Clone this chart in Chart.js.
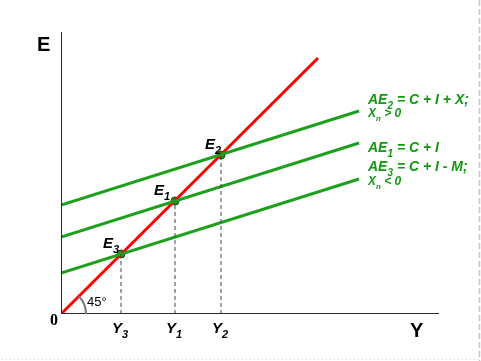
<!DOCTYPE html>
<html>
<head>
<meta charset="utf-8">
<script src="https://cdn.jsdelivr.net/npm/chart.js@4"></script>
<style>
  html, body { margin: 0; padding: 0; background: #fff; }
  #wrap { width: 481px; height: 361px; position: relative; }
</style>
</head>
<body>
<div id="wrap"><canvas id="chart" width="481" height="361"></canvas></div>
<script>
// values (units: output Y and spending E)
var lineX = [0, 298];
var ae2 = [109, 203];
var ae1 = [77, 171];
var ae3 = [41, 135];
var diagX = [0, 257];
var diagY = [0, 256];
var eqNames = ["E3", "E1", "E2"];
var eqY = [60, 114, 160];
var eqE = [60, 113, 159];
var eqLabelShift = [-10, -13, -8];
var xAxisEnd = 378;
var yAxisEnd = 282;

var green = "#1ea01e";
var textGreen = "#119911";

function pts(xs, ys) {
  return xs.map(function (x, i) { return { x: x, y: ys[i] }; });
}

function lineSet(data, color, width, dash) {
  return {
    type: "line",
    data: data,
    borderColor: color,
    borderWidth: width,
    borderDash: dash || [],
    pointRadius: 0,
    fill: false,
    tension: 0,
  };
}

var datasets = [];
// axes
datasets.push(lineSet([{ x: 0, y: 0 }, { x: xAxisEnd, y: 0 }], "#2a2a2a", 2));
datasets.push(lineSet([{ x: 0, y: 0 }, { x: 0, y: yAxisEnd }], "#2a2a2a", 2));
// drop lines
eqY.forEach(function (x, i) {
  datasets.push(lineSet([{ x: x, y: 0 }, { x: x, y: eqE[i] }], "#444", 1, [4, 3]));
});
// AE lines
datasets.push(lineSet(pts(lineX, ae2), green, 3));
datasets.push(lineSet(pts(lineX, ae1), green, 3));
datasets.push(lineSet(pts(lineX, ae3), green, 3));
// 45 degree line
datasets.push(lineSet(pts(diagX, diagY), "#ff0000", 3));
// equilibrium points
datasets.push({
  type: "scatter",
  data: pts(eqY, eqE),
  backgroundColor: "#1a9a1a",
  borderColor: "#114411",
  borderWidth: 1,
  pointRadius: 4,
});

function subText(ctx, x, y, main, sub, size, align) {
  ctx.font = "bold italic " + size + "px Arial, 'Liberation Sans', sans-serif";
  var w1 = ctx.measureText(main).width;
  var subSize = Math.round(size * 0.7);
  ctx.font = "bold italic " + subSize + "px Arial, 'Liberation Sans', sans-serif";
  var w2 = ctx.measureText(sub).width;
  var start = x;
  if (align === "center") start = x - (w1 + w2) / 2;
  ctx.textAlign = "left";
  ctx.textBaseline = "alphabetic";
  ctx.font = "bold italic " + size + "px Arial, 'Liberation Sans', sans-serif";
  ctx.fillText(main, start, y);
  ctx.font = "bold italic " + subSize + "px Arial, 'Liberation Sans', sans-serif";
  ctx.fillText(sub, start + w1, y + size * 0.33);
  return start + w1 + w2;
}

var labelsPlugin = {
  id: "labels",
  afterDatasetsDraw: function (chart) {
    var ctx = chart.ctx;
    var xs = chart.scales.x, ys = chart.scales.y;
    var ox = xs.getPixelForValue(0), oy = ys.getPixelForValue(0);
    ctx.save();

    // 45 degree arc
    ctx.strokeStyle = "#777";
    ctx.lineWidth = 2;
    ctx.beginPath();
    ctx.arc(ox, oy, 25, -Math.PI / 4, 0);
    ctx.stroke();
    ctx.fillStyle = "#000";
    ctx.font = "13px Arial, 'Liberation Sans', sans-serif";
    ctx.textAlign = "left";
    ctx.fillText("45°", ox + 26, oy - 8);

    // axis titles
    ctx.font = "bold 20px Arial, 'Liberation Sans', sans-serif";
    ctx.fillText("E", 37, 51);
    ctx.fillText("Y", 410, 337);
    ctx.font = "bold 16px 'Liberation Serif', 'Times New Roman', serif";
    ctx.fillText("0", 50, 325);

    // Y labels under axis
    eqY.forEach(function (v, i) {
      subText(ctx, xs.getPixelForValue(v) - 1, 333, "Y", eqNames[i].slice(1), 15, "center");
    });
    // E labels
    eqY.forEach(function (v, i) {
      var px = xs.getPixelForValue(v), py = ys.getPixelForValue(eqE[i]);
      subText(ctx, px + eqLabelShift[i], py - 6, "E", eqNames[i].slice(1), 15, "center");
    });

    // right-hand legend text
    ctx.fillStyle = textGreen;
    var lx = 368;
    var e = subText(ctx, lx, 104, "AE", "2", 14);
    ctx.font = "bold italic 14px Arial, 'Liberation Sans', sans-serif";
    ctx.fillText(" = C + I + X;", e, 104);
    e = subText(ctx, lx, 117, "X", "n", 12);
    ctx.font = "bold italic 12px Arial, 'Liberation Sans', sans-serif";
    ctx.fillText(" > 0", e, 117);
    e = subText(ctx, lx, 152, "AE", "1", 14);
    ctx.font = "bold italic 14px Arial, 'Liberation Sans', sans-serif";
    ctx.fillText(" = C + I", e, 152);
    e = subText(ctx, lx, 171, "AE", "3", 14);
    ctx.font = "bold italic 14px Arial, 'Liberation Sans', sans-serif";
    ctx.fillText(" = C + I - M;", e, 171);
    e = subText(ctx, lx, 185, "X", "n", 12);
    ctx.font = "bold italic 12px Arial, 'Liberation Sans', sans-serif";
    ctx.fillText(" < 0", e, 185);

    // frame of the original picture
    ctx.strokeStyle = "#c8c8c8";
    ctx.lineWidth = 1.5;
    ctx.setLineDash([6, 3]);
    ctx.beginPath();
    ctx.moveTo(479.5, 0);
    ctx.lineTo(479.5, 361);
    ctx.stroke();
    ctx.setLineDash([1, 3]);
    ctx.lineWidth = 1;
    ctx.beginPath();
    ctx.moveTo(2, 359.5);
    ctx.lineTo(481, 359.5);
    ctx.stroke();
    ctx.restore();
  },
};

new Chart(document.getElementById("chart"), {
  type: "scatter",
  data: { datasets: datasets },
  options: {
    responsive: false,
    animation: false,
    layout: { autoPadding: false, padding: { left: 61, right: 0, top: 0, bottom: 47 } },
    plugins: { legend: { display: false }, tooltip: { enabled: false } },
    scales: {
      x: { type: "linear", min: 0, max: 420, display: false },
      y: { type: "linear", min: 0, max: 314, display: false },
    },
  },
  plugins: [labelsPlugin],
});
</script>
</body>
</html>
